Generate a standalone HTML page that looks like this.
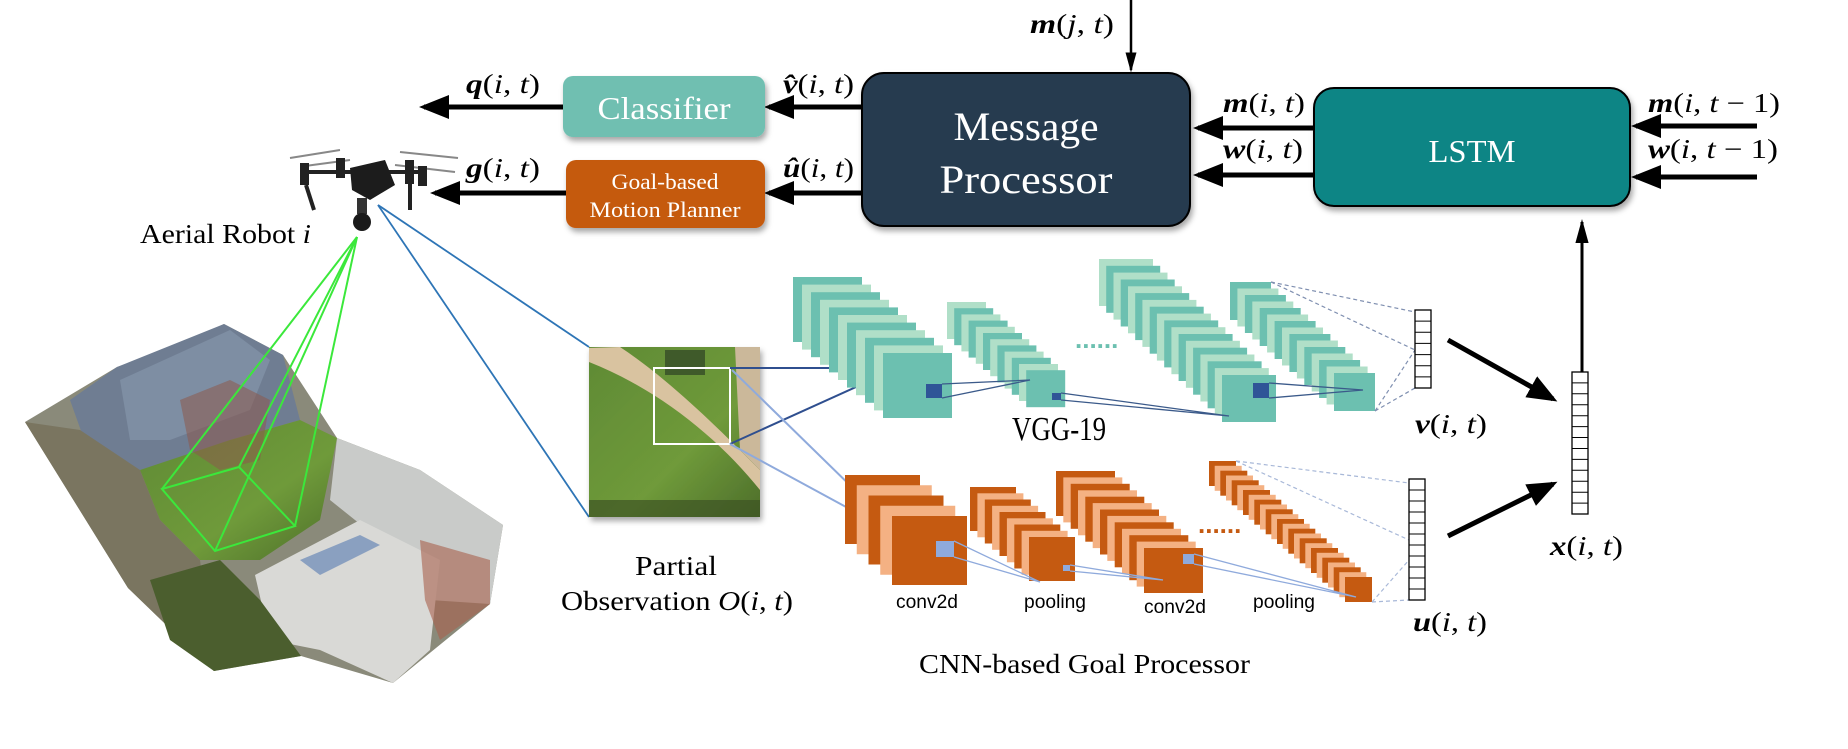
<!DOCTYPE html>
<html><head><meta charset="utf-8"><style>
html,body{margin:0;padding:0;background:#fff;}
svg{display:block}
.t{fill:#6cc0b0}.l{fill:#b0dfc8}.o{fill:#c55a11}.p{fill:#f4b183}
.A rect{width:69px;height:65px}.B rect{width:39px;height:37px}.C rect{width:54px;height:47px}.D rect{width:41px;height:38px}
.E rect{width:75px;height:69px}.F rect{width:46px;height:44px}.G rect{width:59px;height:45px}.H rect{width:27px;height:25px}
text{font-family:"Liberation Serif",serif;}
.m{font-family:"Liberation Serif",serif;font-size:27px;fill:#000}
.s{font-family:"Liberation Sans",sans-serif;}
</style></head><body>
<svg width="1848" height="749" viewBox="0 0 1848 749" xmlns="http://www.w3.org/2000/svg">
<defs>
<marker id="ah" markerWidth="6" markerHeight="6" refX="5" refY="3" orient="auto" markerUnits="strokeWidth"><path d="M0,0.6 L6,3 L0,5.4 Z" fill="#000"/></marker>
<marker id="ah2" markerWidth="8" markerHeight="6" refX="7" refY="3" orient="auto" markerUnits="strokeWidth"><path d="M0,0.8 L8,3 L0,5.2 Z" fill="#000"/></marker>
<filter id="sh" x="-10%" y="-10%" width="130%" height="140%"><feDropShadow dx="2" dy="4" stdDeviation="3" flood-color="#000" flood-opacity="0.35"/></filter>
<linearGradient id="grass" x1="0" y1="0" x2="1" y2="1"><stop offset="0" stop-color="#5f8a35"/><stop offset="0.6" stop-color="#6f9a3a"/><stop offset="1" stop-color="#4d6e2a"/></linearGradient>
</defs>

<line x1="1131" y1="0" x2="1131" y2="70" stroke="#000" stroke-width="2.5" marker-end="url(#ah2)"/>
<line x1="563" y1="107" x2="424" y2="107" stroke="#000" stroke-width="5" marker-end="url(#ah)"/>
<line x1="862" y1="107" x2="769" y2="107" stroke="#000" stroke-width="5" marker-end="url(#ah)"/>
<line x1="566" y1="193" x2="435" y2="193" stroke="#000" stroke-width="5" marker-end="url(#ah)"/>
<line x1="862" y1="193" x2="769" y2="193" stroke="#000" stroke-width="5" marker-end="url(#ah)"/>
<line x1="1314" y1="128" x2="1198" y2="128" stroke="#000" stroke-width="5" marker-end="url(#ah)"/>
<line x1="1314" y1="175" x2="1198" y2="175" stroke="#000" stroke-width="5" marker-end="url(#ah)"/>
<line x1="1757" y1="126" x2="1636" y2="126" stroke="#000" stroke-width="5" marker-end="url(#ah)"/>
<line x1="1757" y1="177" x2="1636" y2="177" stroke="#000" stroke-width="5" marker-end="url(#ah)"/>
<line x1="1582" y1="373" x2="1582" y2="222" stroke="#000" stroke-width="3" marker-end="url(#ah2)"/>

<rect x="563" y="76" width="202" height="61" rx="10" fill="#70bfb1" filter="url(#sh)"/>
<text x="664" y="119" text-anchor="middle" font-size="32" fill="#fff" textLength="133" lengthAdjust="spacingAndGlyphs">Classifier</text>
<rect x="566" y="160" width="199" height="68" rx="10" fill="#c55a11" filter="url(#sh)"/>
<text x="665" y="189" text-anchor="middle" font-size="22" fill="#fff" textLength="107" lengthAdjust="spacingAndGlyphs">Goal-based</text>
<text x="665" y="217" text-anchor="middle" font-size="22" fill="#fff" textLength="151" lengthAdjust="spacingAndGlyphs">Motion Planner</text>
<rect x="862" y="73" width="328" height="153" rx="22" fill="#263a50" stroke="#000" stroke-width="2" filter="url(#sh)"/>
<text x="1026" y="140" text-anchor="middle" font-size="40" fill="#fff" textLength="145" lengthAdjust="spacingAndGlyphs">Message</text>
<text x="1026" y="193" text-anchor="middle" font-size="40" fill="#fff" textLength="173" lengthAdjust="spacingAndGlyphs">Processor</text>
<rect x="1314" y="88" width="316" height="118" rx="20" fill="#0a8585" stroke="#000" stroke-width="2" filter="url(#sh)"/>
<text x="1472" y="162" text-anchor="middle" font-size="32" fill="#fff" textLength="87" lengthAdjust="spacingAndGlyphs">LSTM</text>

<text class="m" x="1030" y="33" textLength="84" lengthAdjust="spacingAndGlyphs"><tspan font-weight="bold" font-style="italic">m</tspan>(<tspan font-style="italic">j</tspan>, <tspan font-style="italic">t</tspan>)</text>
<text class="m" x="466" y="93" textLength="74" lengthAdjust="spacingAndGlyphs"><tspan font-weight="bold" font-style="italic">q</tspan>(<tspan font-style="italic">i</tspan>, <tspan font-style="italic">t</tspan>)</text>
<text class="m" x="466" y="177" textLength="74" lengthAdjust="spacingAndGlyphs"><tspan font-weight="bold" font-style="italic">g</tspan>(<tspan font-style="italic">i</tspan>, <tspan font-style="italic">t</tspan>)</text>
<text class="m" x="783" y="93" textLength="71" lengthAdjust="spacingAndGlyphs"><tspan font-weight="bold" font-style="italic">v̂</tspan>(<tspan font-style="italic">i</tspan>, <tspan font-style="italic">t</tspan>)</text>
<text class="m" x="783" y="177" textLength="71" lengthAdjust="spacingAndGlyphs"><tspan font-weight="bold" font-style="italic">û</tspan>(<tspan font-style="italic">i</tspan>, <tspan font-style="italic">t</tspan>)</text>
<text class="m" x="1223" y="112" textLength="82" lengthAdjust="spacingAndGlyphs"><tspan font-weight="bold" font-style="italic">m</tspan>(<tspan font-style="italic">i</tspan>, <tspan font-style="italic">t</tspan>)</text>
<text class="m" x="1223" y="158" textLength="80" lengthAdjust="spacingAndGlyphs"><tspan font-weight="bold" font-style="italic">w</tspan>(<tspan font-style="italic">i</tspan>, <tspan font-style="italic">t</tspan>)</text>
<text class="m" x="1648" y="112" textLength="132" lengthAdjust="spacingAndGlyphs"><tspan font-weight="bold" font-style="italic">m</tspan>(<tspan font-style="italic">i</tspan>, <tspan font-style="italic">t</tspan> − 1)</text>
<text class="m" x="1648" y="158" textLength="130" lengthAdjust="spacingAndGlyphs"><tspan font-weight="bold" font-style="italic">w</tspan>(<tspan font-style="italic">i</tspan>, <tspan font-style="italic">t</tspan> − 1)</text>
<text class="m" x="1415" y="433" textLength="72" lengthAdjust="spacingAndGlyphs"><tspan font-weight="bold" font-style="italic">v</tspan>(<tspan font-style="italic">i</tspan>, <tspan font-style="italic">t</tspan>)</text>
<text class="m" x="1413" y="631" textLength="74" lengthAdjust="spacingAndGlyphs"><tspan font-weight="bold" font-style="italic">u</tspan>(<tspan font-style="italic">i</tspan>, <tspan font-style="italic">t</tspan>)</text>
<text class="m" x="1550" y="555" textLength="73" lengthAdjust="spacingAndGlyphs"><tspan font-weight="bold" font-style="italic">x</tspan>(<tspan font-style="italic">i</tspan>, <tspan font-style="italic">t</tspan>)</text>

<g>
<polygon points="25,422 117,367 170,350 224,324 283,355 337,438 420,470 503,525 490,604 393,683 301,656 214,671 128,588" fill="#8a8a7a"/>
<polygon points="70,400 117,367 224,324 283,355 300,420 230,440 150,470 95,470" fill="#6f7d92"/>
<polygon points="120,380 175,355 230,330 270,360 250,410 170,440 130,440" fill="#7e8ea3"/>
<polygon points="140,470 230,440 300,420 337,438 320,520 260,560 200,560 160,520" fill="url(#grass)"/>
<polygon points="25,422 80,430 140,470 160,520 200,560 214,671 128,588" fill="#7a7560"/>
<polygon points="337,438 420,470 503,525 490,604 430,600 380,540 330,500" fill="#c9cbc9"/>
<polygon points="255,575 360,520 440,560 430,650 393,683 320,650 270,640" fill="#d9d9d6"/>
<polygon points="300,560 360,535 380,545 320,575" fill="#8aa0c0"/>
<polygon points="420,540 490,560 490,604 440,640 425,600" fill="#a9604c" opacity="0.6"/>
<polygon points="150,580 220,560 260,600 301,656 214,671 170,640" fill="#4b5e2e"/>
<polygon points="180,400 230,380 270,400 260,460 220,470 190,450" fill="#8c5a4c" opacity="0.55"/>
</g>
<g stroke="#3be83b" stroke-width="2" fill="none">
<polygon points="162,489 239,467 295,526 215,551"/>
<line x1="357" y1="237" x2="162" y2="489"/><line x1="357" y1="237" x2="239" y2="467"/>
<line x1="357" y1="237" x2="295" y2="526"/><line x1="357" y1="237" x2="215" y2="551"/>
</g>
<line x1="378" y1="205" x2="589" y2="347" stroke="#2e75b6" stroke-width="1.8"/>
<line x1="378" y1="205" x2="589" y2="517" stroke="#2e75b6" stroke-width="1.8"/>

<g>
<line x1="290" y1="158" x2="340" y2="150" stroke="#888" stroke-width="2"/>
<line x1="305" y1="166" x2="350" y2="160" stroke="#888" stroke-width="2"/>
<line x1="400" y1="152" x2="458" y2="158" stroke="#888" stroke-width="2"/>
<line x1="395" y1="165" x2="455" y2="172" stroke="#888" stroke-width="2"/>
<rect x="300" y="163" width="9" height="22" fill="#222"/>
<rect x="336" y="158" width="9" height="20" fill="#222"/>
<rect x="405" y="160" width="9" height="24" fill="#222"/>
<rect x="418" y="166" width="9" height="20" fill="#222"/>
<line x1="309" y1="172" x2="420" y2="172" stroke="#222" stroke-width="4"/>
<path d="M350,168 L385,160 L395,185 L370,200 L352,190Z" fill="#1c1c1c"/>
<line x1="306" y1="185" x2="314" y2="210" stroke="#222" stroke-width="4"/>
<line x1="410" y1="184" x2="410" y2="210" stroke="#222" stroke-width="4"/>
<rect x="357" y="198" width="10" height="16" fill="#333"/>
<circle cx="362" cy="222" r="9" fill="#1a1a1a"/>
</g>
<text x="140" y="243" font-size="27" textLength="171" lengthAdjust="spacingAndGlyphs">Aerial Robot <tspan font-style="italic">i</tspan></text>

<g filter="url(#sh)">
<rect x="589" y="347" width="171" height="170" fill="url(#grass)"/>
</g>
<path d="M589,348 L620,347 C670,380 720,430 760,470 L760,490 C720,440 660,390 589,362 Z" fill="#d9c3a0"/>
<path d="M700,347 L760,347 L760,470 L740,450 L735,347Z" fill="#cbb89a"/>
<rect x="665" y="350" width="40" height="25" fill="#3f5a2a"/>
<rect x="589" y="500" width="171" height="17" fill="#3d5224" opacity="0.7"/>
<rect x="654" y="368" width="76" height="76" fill="none" stroke="#fff" stroke-width="2"/>
<line x1="730" y1="368" x2="898" y2="368" stroke="#2f4f8f" stroke-width="2"/>
<line x1="730" y1="444" x2="898" y2="368" stroke="#2f4f8f" stroke-width="2"/>
<line x1="732" y1="370" x2="905" y2="539" stroke="#8faadc" stroke-width="2"/>
<line x1="730" y1="444" x2="905" y2="539" stroke="#8faadc" stroke-width="2"/>
<text x="676" y="575" text-anchor="middle" font-size="27" textLength="82" lengthAdjust="spacingAndGlyphs">Partial</text>
<text x="561" y="610" font-size="27" textLength="232" lengthAdjust="spacingAndGlyphs">Observation <tspan font-style="italic">O</tspan>(<tspan font-style="italic">i</tspan>, <tspan font-style="italic">t</tspan>)</text>

<g class="A">
<rect class="t" x="793" y="277"/><rect class="l" x="802" y="284.6"/><rect class="t" x="811" y="292.2"/><rect class="l" x="820" y="299.8"/><rect class="t" x="829" y="307.4"/><rect class="l" x="838" y="315"/><rect class="t" x="847" y="322.6"/><rect class="l" x="856" y="330.2"/><rect class="t" x="865" y="337.8"/><rect class="l" x="874" y="345.4"/><rect class="t" x="883" y="353"/>
</g>
<g class="B">
<rect class="l" x="947" y="302"/><rect class="t" x="954.2" y="308.2"/><rect class="l" x="961.4" y="314.4"/><rect class="t" x="968.6" y="320.6"/><rect class="l" x="975.8" y="326.8"/><rect class="t" x="983" y="333"/><rect class="l" x="990.2" y="339.2"/><rect class="t" x="997.4" y="345.4"/><rect class="l" x="1004.6" y="351.6"/><rect class="t" x="1011.8" y="357.8"/><rect class="l" x="1019" y="364"/><rect class="t" x="1026.2" y="370.2"/>
</g>
<g class="C">
<rect class="l" x="1099" y="259"/><rect class="t" x="1106.2" y="265.8"/><rect class="l" x="1113.5" y="272.6"/><rect class="t" x="1120.7" y="279.5"/><rect class="l" x="1128" y="286.3"/><rect class="t" x="1135.2" y="293.1"/><rect class="l" x="1142.4" y="299.9"/><rect class="t" x="1149.7" y="306.7"/><rect class="l" x="1156.9" y="313.6"/><rect class="t" x="1164.2" y="320.4"/><rect class="l" x="1171.4" y="327.2"/><rect class="t" x="1178.6" y="334"/><rect class="l" x="1185.9" y="340.8"/><rect class="t" x="1193.1" y="347.7"/><rect class="l" x="1200.4" y="354.5"/><rect class="t" x="1207.6" y="361.3"/><rect class="l" x="1214.8" y="368.1"/><rect class="t" x="1222" y="375"/>
</g>
<g class="D">
<rect class="t" x="1230" y="282"/><rect class="l" x="1237.4" y="288.5"/><rect class="t" x="1244.9" y="295"/><rect class="l" x="1252.3" y="301.5"/><rect class="t" x="1259.7" y="308"/><rect class="l" x="1267.1" y="314.5"/><rect class="t" x="1274.6" y="321"/><rect class="l" x="1282" y="327.5"/><rect class="t" x="1289.4" y="334"/><rect class="l" x="1296.9" y="340.5"/><rect class="t" x="1304.3" y="347"/><rect class="l" x="1311.7" y="353.5"/><rect class="t" x="1319.1" y="360"/><rect class="l" x="1326.6" y="366.5"/><rect class="t" x="1334" y="373"/>
</g>
<rect x="926" y="384" width="16" height="14" fill="#2f5597"/>
<rect x="1052" y="393" width="9" height="7" fill="#2f5597"/>
<rect x="1253" y="383" width="16" height="15" fill="#2f5597"/>
<g stroke="#3b5a8a" stroke-width="1.3" fill="none">
<polyline points="942,384 1030,380 942,398"/>
<polyline points="1061,393 1229,416 1061,400"/>
<polyline points="1269,383 1363,390 1269,398"/>
</g>
<text x="1075" y="348" font-size="26" fill="#6cc0b0" font-weight="bold" class="s">......</text>
<text x="1059" y="440" text-anchor="middle" font-size="34" textLength="94" lengthAdjust="spacingAndGlyphs">VGG-19</text>

<g class="E">
<rect class="o" x="845" y="475"/><rect class="p" x="856.75" y="485.25"/><rect class="o" x="868.5" y="495.5"/><rect class="p" x="880.25" y="505.75"/><rect class="o" x="892" y="516"/>
</g>
<g class="F">
<rect class="o" x="970" y="487"/><rect class="p" x="977.4" y="493.3"/><rect class="o" x="984.8" y="499.5"/><rect class="p" x="992.1" y="505.8"/><rect class="o" x="999.5" y="512"/><rect class="p" x="1006.9" y="518.3"/><rect class="o" x="1014.3" y="524.5"/><rect class="p" x="1021.6" y="530.8"/><rect class="o" x="1029" y="537"/>
</g>
<g class="G">
<rect class="o" x="1056" y="471"/><rect class="p" x="1063.3" y="477.4"/><rect class="o" x="1070.7" y="483.8"/><rect class="p" x="1078" y="490.3"/><rect class="o" x="1085.3" y="496.7"/><rect class="p" x="1092.7" y="503.1"/><rect class="o" x="1100" y="509.5"/><rect class="p" x="1107.3" y="515.9"/><rect class="o" x="1114.7" y="522.3"/><rect class="p" x="1122" y="528.8"/><rect class="o" x="1129.3" y="535.2"/><rect class="p" x="1136.7" y="541.6"/><rect class="o" x="1144" y="548"/>
</g>
<g class="H">
<rect class="o" x="1209" y="461"/><rect class="p" x="1214.7" y="465.8"/><rect class="o" x="1220.3" y="470.7"/><rect class="p" x="1226" y="475.5"/><rect class="o" x="1231.7" y="480.3"/><rect class="p" x="1237.3" y="485.2"/><rect class="o" x="1243" y="490"/><rect class="p" x="1248.7" y="494.8"/><rect class="o" x="1254.3" y="499.7"/><rect class="p" x="1260" y="504.5"/><rect class="o" x="1265.7" y="509.3"/><rect class="p" x="1271.3" y="514.2"/><rect class="o" x="1277" y="519"/><rect class="p" x="1282.7" y="523.8"/><rect class="o" x="1288.3" y="528.7"/><rect class="p" x="1294" y="533.5"/><rect class="o" x="1299.7" y="538.3"/><rect class="p" x="1305.3" y="543.2"/><rect class="o" x="1311" y="548"/><rect class="p" x="1316.7" y="552.8"/><rect class="o" x="1322.3" y="557.7"/><rect class="p" x="1328" y="562.5"/><rect class="o" x="1333.7" y="567.3"/><rect class="p" x="1339.3" y="572.2"/><rect class="o" x="1345" y="577"/>
</g>
<rect x="936" y="541" width="18" height="16" fill="#8faadc"/>
<rect x="1063" y="565" width="7" height="6" fill="#8faadc"/>
<rect x="1183" y="554" width="11" height="10" fill="#8faadc"/>
<g stroke="#8faadc" stroke-width="1.3" fill="none">
<polyline points="954,541 1040,582 954,557"/>
<polyline points="1070,565 1163,580 1070,571"/>
<polyline points="1194,554 1356,597 1194,564"/>
</g>
<text x="1198" y="533" font-size="26" fill="#c55a11" font-weight="bold" class="s">......</text>
<g class="s" font-size="19" fill="#000">
<text x="927" y="608" text-anchor="middle" class="s" textLength="62" lengthAdjust="spacingAndGlyphs">conv2d</text>
<text x="1055" y="608" text-anchor="middle" class="s" textLength="62" lengthAdjust="spacingAndGlyphs">pooling</text>
<text x="1175" y="613" text-anchor="middle" class="s" textLength="62" lengthAdjust="spacingAndGlyphs">conv2d</text>
<text x="1284" y="608" text-anchor="middle" class="s" textLength="62" lengthAdjust="spacingAndGlyphs">pooling</text>
</g>
<text x="919" y="673" font-size="27" textLength="331" lengthAdjust="spacingAndGlyphs">CNN-based Goal Processor</text>

<g stroke="#7f8fb0" stroke-width="1.2" stroke-dasharray="4,3" fill="none">
<line x1="1271" y1="282" x2="1415" y2="312"/><line x1="1271" y1="282" x2="1415" y2="350"/>
<line x1="1375" y1="411" x2="1415" y2="350"/><line x1="1375" y1="411" x2="1415" y2="388"/>
</g>
<g stroke="#a8b8d8" stroke-width="1.2" stroke-dasharray="4,3" fill="none">
<line x1="1236" y1="461" x2="1409" y2="483"/><line x1="1236" y1="461" x2="1409" y2="540"/>
<line x1="1372" y1="602" x2="1409" y2="560"/><line x1="1372" y1="602" x2="1409" y2="600"/>
</g>

<g fill="#fff" stroke="#000" stroke-width="1.3">
<rect x="1415" y="310" width="16" height="78"/>
<rect x="1409" y="479" width="16" height="121"/>
<rect x="1572" y="372" width="16" height="142"/>
</g>
<g stroke="#000" stroke-width="1">
<path d="M1415,321.1h16M1415,332.3h16M1415,343.4h16M1415,354.6h16M1415,365.7h16M1415,376.9h16"/>
<path d="M1409,490h16M1409,501h16M1409,512h16M1409,523h16M1409,534h16M1409,545h16M1409,556h16M1409,567h16M1409,578h16M1409,589h16"/>
<path d="M1572,382.9h16M1572,393.8h16M1572,404.8h16M1572,415.7h16M1572,426.6h16M1572,437.5h16M1572,448.5h16M1572,459.4h16M1572,470.3h16M1572,481.2h16M1572,492.2h16M1572,503.1h16"/>
</g>
<line x1="1448" y1="340" x2="1553" y2="399" stroke="#000" stroke-width="5" marker-end="url(#ah)"/>
<line x1="1448" y1="536" x2="1553" y2="484" stroke="#000" stroke-width="5" marker-end="url(#ah)"/>
</svg>
</body></html>
